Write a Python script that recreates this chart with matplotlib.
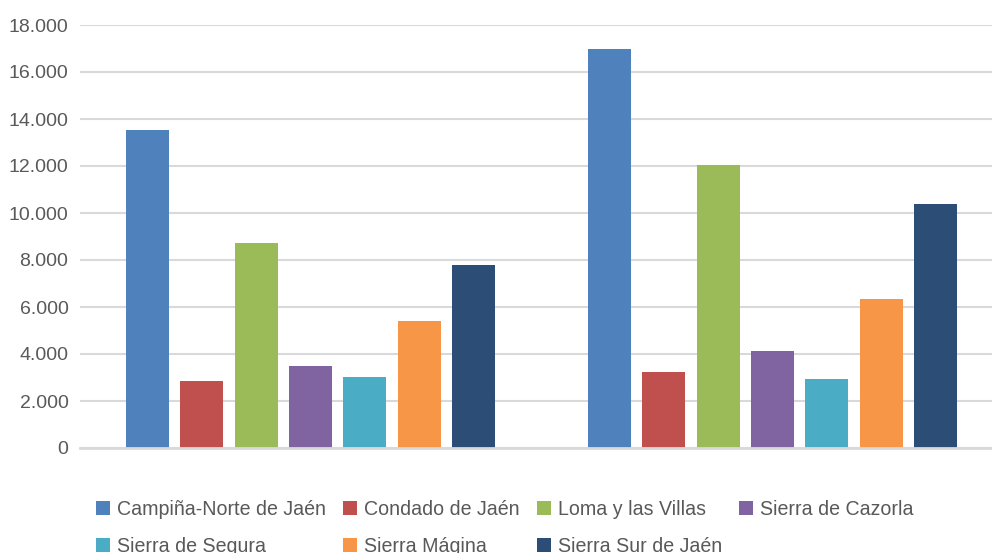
import matplotlib
matplotlib.use("Agg")
import matplotlib.pyplot as plt
import numpy as np
from matplotlib.ticker import FuncFormatter

# ── data ─────────────────────────────────────────────────────────────────────
comarcas = ["Campiña-Norte de Jaén", "Condado de Jaén", "Loma y las Villas",
            "Sierra de Cazorla", "Sierra de Segura", "Sierra Mágina",
            "Sierra Sur de Jaén"]
grupos = ["", ""]
valores_1 = [13530, 2850, 8720, 3490, 3020, 5400, 7790]
valores_2 = [16980, 3230, 12040, 4130, 2940, 6340, 10380]
y_ticks = [0, 2000, 4000, 6000, 8000, 10000, 12000, 14000, 16000, 18000]

colores = ["#4F81BD", "#C0504D", "#9BBB59", "#8064A2", "#4BACC6", "#F79646",
           "#2C4D75"]
_TEXT = "#595959"
_GRID = "#D9D9D9"

plt.rcParams["font.family"] = ["Liberation Sans", "DejaVu Sans"]

fig = plt.figure(figsize=(9.92, 5.53), dpi=100)
ax = fig.add_axes([79.5 / 992, 1 - 448 / 553, 924 / 992, 423 / 553])

x = np.arange(len(grupos))
pitch = 0.1175
width = 0.093
handles = []
for i, (name, col) in enumerate(zip(comarcas, colores)):
    vals = [valores_1[i], valores_2[i]]
    b = ax.bar(x + (i - 3) * pitch, vals, width, color=col, label=name,
               zorder=3)
    handles.append(b)

ax.set_xlim(-0.5, 1.5)
ax.set_ylim(0, 18000)
ax.set_yticks(y_ticks)
ax.yaxis.set_major_formatter(
    FuncFormatter(lambda v, _: f"{int(v):,}".replace(",", ".")))
ax.set_xticks([])
ax.tick_params(axis="y", length=0, pad=8, labelsize=14, labelcolor=_TEXT)
ax.grid(axis="y", color=_GRID, linewidth=1.5, zorder=0)
for side in ("top", "right", "left"):
    ax.spines[side].set_visible(False)
ax.spines["bottom"].set_color(_GRID)
ax.spines["bottom"].set_linewidth(2)
ax.spines["bottom"].set_zorder(4)

# legend row-major in 4 columns
order = [0, 4, 1, 5, 2, 6, 3]
leg = fig.legend([handles[k] for k in order], [comarcas[k] for k in order],
                 ncol=4, loc="upper left",
                 bbox_to_anchor=(96 / 992, 1 - 500 / 553),
                 frameon=False, fontsize=14.1, borderpad=0, borderaxespad=0,
                 handlelength=0.7, handleheight=0.7, handletextpad=0.35,
                 columnspacing=0.9, labelspacing=0.9)
for t in leg.get_texts():
    t.set_color(_TEXT)

fig.savefig("out.png", dpi=100)
